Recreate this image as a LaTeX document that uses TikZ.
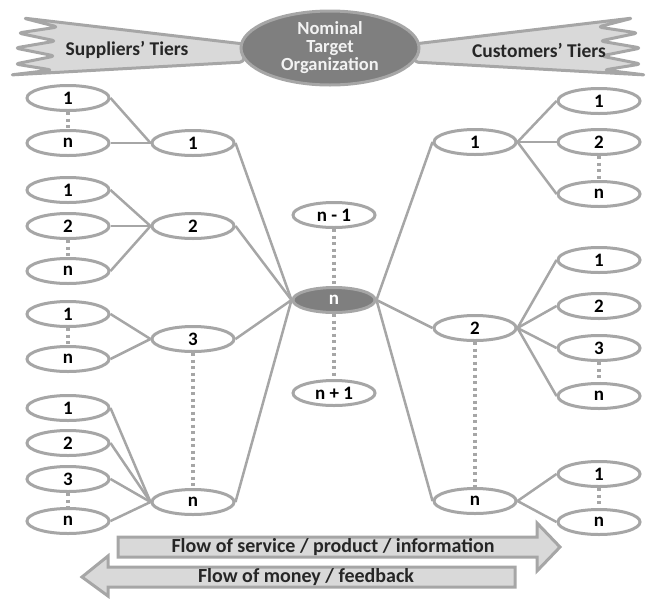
\documentclass[tikz,border=0pt]{standalone}
\usepackage{fontspec}
\setmainfont{Carlito}
\usetikzlibrary{shapes.geometric}
\definecolor{edgegray}{HTML}{A6A6A6}
\definecolor{lightfill}{HTML}{D9D9D9}
\definecolor{darkfill}{HTML}{7F7F7F}
\tikzset{
  tier/.style={ellipse, draw=edgegray, line width=3pt, fill=white, minimum width=82pt, minimum height=25pt, inner sep=0pt, text=black, font=\bfseries\fontsize{19}{19}\selectfont},
  focal/.style={tier, fill=darkfill, draw=edgegray, text=white},
  link/.style={draw=edgegray, line width=2.5pt},
  dots/.style={draw=edgegray, line width=3.5pt, dash pattern=on 3pt off 3.5pt},
  banner/.style={draw=edgegray, fill=lightfill, line width=3pt, line join=round, rounded corners=4pt},
  label/.style={font=\bfseries\fontsize{19.5}{19.5}\selectfont, text=black!85},
  flowtext/.style={font=\bfseries\fontsize{20}{20}\selectfont, text=black!85},
}
\begin{document}
\begin{tikzpicture}[x=1pt,y=-1pt]
\useasboundingbox (0,0) rectangle (656,598);
% banners
\path[banner] (244,44) -- (23,18) -- (58,27) -- (18,33) -- (56,41) -- (15,48) -- (55,56) -- (15,64) -- (52,70) -- (10,75) -- (244,62) -- cycle;
\path[banner] (414,44) -- (633,18) -- (598,27) -- (638,33) -- (600,41) -- (641,48) -- (601,56) -- (641,64) -- (604,70) -- (646,75) -- (414,62) -- cycle;
\node[label] (sup) at (127,50) {Suppliers’ Tiers};
\node[label] (cus) at (539,50) {Customers’ Tiers};
\node[ellipse, fill=darkfill, draw=edgegray, line width=3pt, minimum width=178pt, minimum height=74pt, inner sep=0pt, text=white!95!black, align=center, font=\bfseries\fontsize{18.5}{18}\selectfont] (org) at (330,48) {Nominal\\Target\\Organization};

% left side
\node[tier] (l11) at (68,98) {1};
\node[tier] (l1n) at (68,143) {n};
\node[tier] (m1) at (193,143) {1};
\node[tier] (l21) at (68,190) {1};
\node[tier] (l22) at (68,226) {2};
\node[tier] (l2n) at (68,271) {n};
\node[tier] (m2) at (193,226) {2};
\node[tier] (l31) at (68,314) {1};
\node[tier] (l3n) at (68,359) {n};
\node[tier] (m3) at (193,339) {3};
\node[tier] (l41) at (68,408) {1};
\node[tier] (l42) at (68,443) {2};
\node[tier] (l43) at (68,479) {3};
\node[tier] (l4n) at (68,521) {n};
\node[tier] (mn) at (193,502) {n};

% center
\node[tier] (cm) at (334,215) {n - 1};
\node[focal] (c) at (334,300) {n};
\node[tier] (cp) at (334,393) {n + 1};

% right side
\node[tier] (r1) at (475,142) {1};
\node[tier] (r11) at (599,101) {1};
\node[tier] (r12) at (599,142) {2};
\node[tier] (r1n) at (599,194) {n};
\node[tier] (r2) at (475,328) {2};
\node[tier] (r21) at (599,260) {1};
\node[tier] (r22) at (599,306) {2};
\node[tier] (r23) at (599,348) {3};
\node[tier] (r2n) at (599,396) {n};
\node[tier] (rn) at (475,501) {n};
\node[tier] (rn1) at (599,474) {1};
\node[tier] (rnn) at (599,522) {n};

% solid links
\draw[link] (l11.east) -- (m1.west);
\draw[link] (l1n.east) -- (m1.west);
\draw[link] (l21.east) -- (m2.west);
\draw[link] (l22.east) -- (m2.west);
\draw[link] (l2n.east) -- (m2.west);
\draw[link] (l31.east) -- (m3.west);
\draw[link] (l3n.east) -- (m3.west);
\draw[link] (l41.east) -- (mn.west);
\draw[link] (l42.east) -- (mn.west);
\draw[link] (l43.east) -- (mn.west);
\draw[link] (l4n.east) -- (mn.west);
\draw[link] (m1.east) -- (c.west);
\draw[link] (m2.east) -- (c.west);
\draw[link] (m3.east) -- (c.west);
\draw[link] (mn.east) -- (c.west);
\draw[link] (c.east) -- (r1.west);
\draw[link] (c.east) -- (r2.west);
\draw[link] (c.east) -- (rn.west);
\draw[link] (r1.east) -- (r11.west);
\draw[link] (r1.east) -- (r12.west);
\draw[link] (r1.east) -- (r1n.west);
\draw[link] (r2.east) -- (r21.west);
\draw[link] (r2.east) -- (r22.west);
\draw[link] (r2.east) -- (r23.west);
\draw[link] (r2.east) -- (r2n.west);
\draw[link] (rn.east) -- (rn1.west);
\draw[link] (rn.east) -- (rnn.west);

% dotted links
\draw[dots] (l11.south) -- (l1n.north);
\draw[dots] (l22.south) -- (l2n.north);
\draw[dots] (l31.south) -- (l3n.north);
\draw[dots] (l43.south) -- (l4n.north);
\draw[dots] (m3.south) -- (mn.north);
\draw[dots] (cm.south) -- (c.north);
\draw[dots] (c.south) -- (cp.north);
\draw[dots] (r12.south) -- (r1n.north);
\draw[dots] (r23.south) -- (r2n.north);
\draw[dots] (rn1.south) -- (rnn.north);
\draw[dots] (r2.south) -- (rn.north);

% flow arrows
\path[banner, rounded corners=0pt, line join=miter] (118,537) -- (537,537) -- (537,523) -- (560,547) -- (537,571) -- (537,557) -- (118,557) -- cycle;
\node[flowtext] (fwd) at (333,547) {Flow of service / product / information};
\path[banner, rounded corners=0pt, line join=miter] (515,567) -- (108,567) -- (108,556) -- (82,577) -- (108,596) -- (108,587) -- (515,587) -- cycle;
\node[flowtext] (bwd) at (306,577) {Flow of money / feedback};
\end{tikzpicture}
\end{document}
